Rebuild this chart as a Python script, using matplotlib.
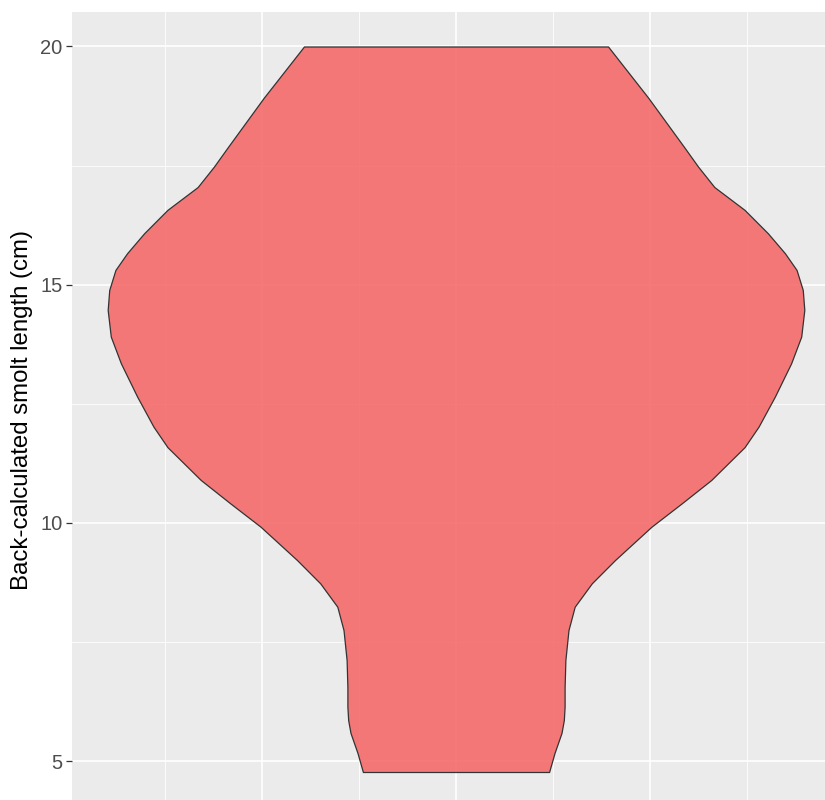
import matplotlib.pyplot as plt
import numpy as np

# Violin outline: length (cm) and half width (x units)
length = [4.77, 5.17, 5.59, 5.86, 6.14, 6.55, 7.12, 7.75, 8.24, 8.73, 9.22,
          9.92, 10.41, 10.90, 11.59, 12.02, 12.65, 13.35, 13.91, 14.47,
          14.89, 15.31, 15.66, 16.08, 16.57, 17.05, 17.48, 17.89, 18.92,
          20.00]
half_width = [0.120, 0.127, 0.136, 0.139, 0.140, 0.140, 0.141, 0.145, 0.153,
              0.175, 0.205, 0.252, 0.291, 0.329, 0.372, 0.390, 0.411, 0.432,
              0.445, 0.449, 0.447, 0.439, 0.424, 0.402, 0.372, 0.333, 0.312,
              0.294, 0.248, 0.196]
x_center = 1.0

y_ticks = [5, 10, 15, 20]
y_minor = [7.5, 12.5, 17.5]
x_ticks = [0.75, 1.0, 1.25]
x_minor = [0.625, 0.875, 1.125, 1.375]

y = np.array(length)
hw = np.array(half_width)

fig = plt.figure(figsize=(8.25, 8.0), dpi=100)
# panel runs a little past the right and bottom edges, like the cropped original
ax = fig.add_axes([72 / 825, -0.01025, 768 / 825, 0.995])
ax.set_facecolor("#EBEBEB")
ax.set_xlim(0.505, 1.495)
ax.set_ylim(4.01, 20.72)

# grid
ax.set_yticks(y_ticks)
ax.set_yticks(y_minor, minor=True)
ax.set_xticks(x_ticks)
ax.set_xticks(x_minor, minor=True)
ax.grid(which="major", color="white", linewidth=1.2)
ax.grid(which="minor", color="white", linewidth=0.6)
ax.set_axisbelow(True)

# violin
ax.fill_betweenx(y, x_center - hw, x_center + hw,
                 facecolor=(0.965, 0.42, 0.42, 0.9),
                 edgecolor="#333333", linewidth=0.9, zorder=3)

for s in ax.spines.values():
    s.set_visible(False)

ax.tick_params(axis="y", which="major", length=4, width=0.9, color="#333333",
               labelsize=14.5, labelcolor="#4D4D4D", pad=3)
ax.tick_params(axis="y", which="minor", length=0)
ax.tick_params(axis="x", which="both", length=0, labelbottom=False)
for lab in ax.get_yticklabels():
    lab.set_family(["Liberation Sans", "DejaVu Sans"])

ax.set_ylabel("Back-calculated smolt length (cm)", fontsize=17.3,
              family=["Liberation Sans", "DejaVu Sans"], labelpad=5)

fig.savefig("out.png", dpi=100)
